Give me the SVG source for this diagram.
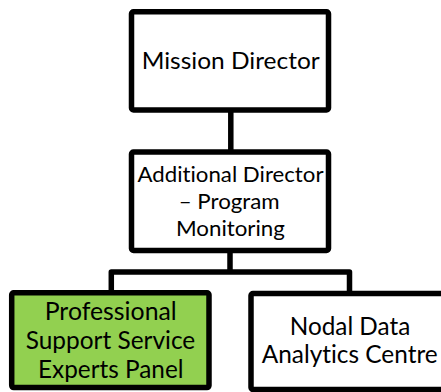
<svg xmlns="http://www.w3.org/2000/svg" width="441" height="392" viewBox="0 0 441 392">
<style>
.box{fill:#ffffff;stroke:#000000;stroke-width:5.5;stroke-linejoin:round}
.green{fill:#92D050}
.conn{fill:none;stroke:#000000;stroke-width:5.5;stroke-linejoin:round}
text{font-family:Lato,"Open Sans","Liberation Sans",sans-serif;fill:#000000;text-anchor:middle;font-variant-ligatures:none}
.t1{font-size:22.3px}
.t2{font-size:21.6px}
.t3{font-size:24.7px}
</style>
<rect width="441" height="392" fill="#ffffff"/>
<g id="connectors">
<path class="conn" d="M230.8,112 V150"/>
<path class="conn" d="M230,253 V272 M111.3,291 V272 H349.5 V292"/>
</g>
<g id="mission-director">
<rect class="box" x="131.5" y="11.8" width="197" height="98.2" rx="2"/>
<text class="t1" x="230.7" y="69.3" textLength="178" lengthAdjust="spacingAndGlyphs">Mission Director</text>
</g>
<g id="additional-director">
<rect class="box" x="131.5" y="152" width="197" height="98.5" rx="2"/>
<text class="t2" x="230.5" y="182.3" textLength="186" lengthAdjust="spacingAndGlyphs">Additional Director</text>
<text class="t2" x="229.2" y="209.3" textLength="101" lengthAdjust="spacingAndGlyphs">– Program</text>
<text class="t2" x="230.4" y="236" textLength="109" lengthAdjust="spacingAndGlyphs">Monitoring</text>
</g>
<g id="professional-support">
<rect class="box green" x="11.7" y="292.8" width="197.3" height="94.8" rx="2"/>
<text class="t3" x="110.7" y="320" textLength="132" lengthAdjust="spacingAndGlyphs">Professional</text>
<text class="t3" x="110.5" y="349.3" textLength="169.5" lengthAdjust="spacingAndGlyphs">Support Service</text>
<text class="t3" x="110.8" y="378.3" textLength="145.5" lengthAdjust="spacingAndGlyphs">Experts Panel</text>
</g>
<g id="nodal-data">
<rect class="box" x="251" y="293.5" width="197.5" height="96" rx="2"/>
<text class="t3" x="350" y="335" textLength="120.5" lengthAdjust="spacingAndGlyphs">Nodal Data</text>
<text class="t3" x="349.7" y="363.3" textLength="176" lengthAdjust="spacingAndGlyphs">Analytics Centre</text>
</g>
</svg>
